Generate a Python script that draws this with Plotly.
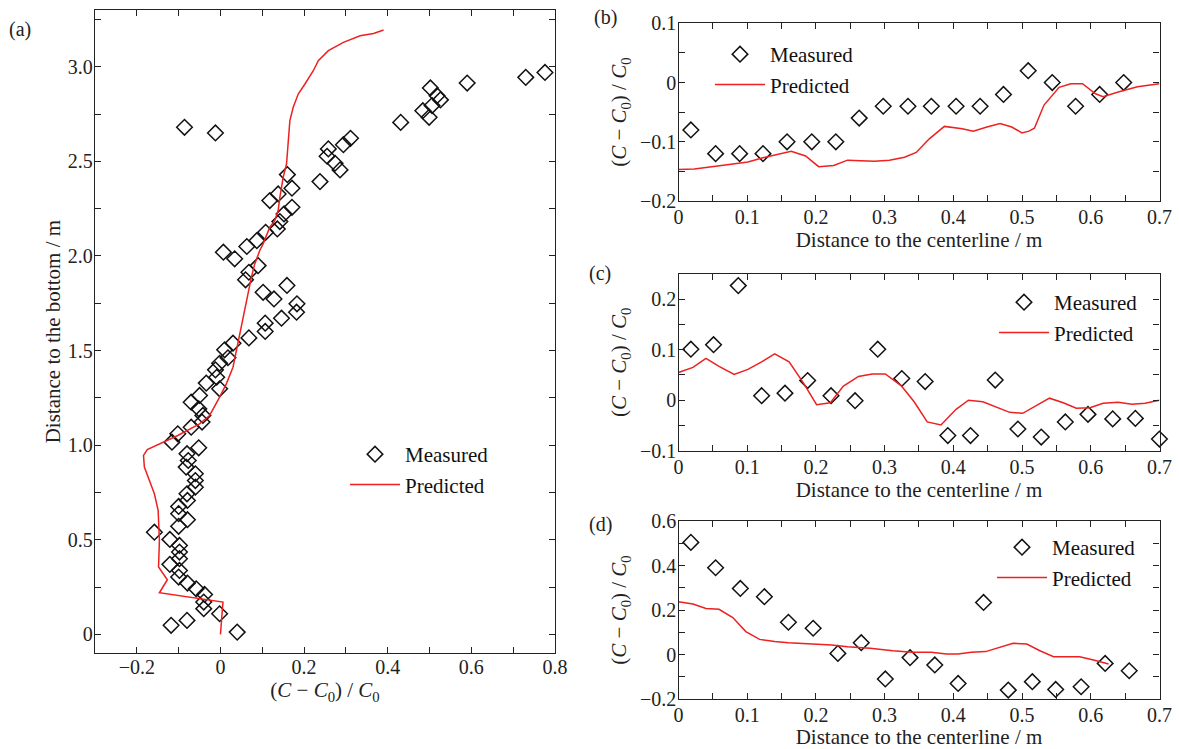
import plotly.graph_objects as go

# ---------------- Panel (a): vertical profile ----------------
a_meas_x = [-0.086, -0.012, 0.776, 0.730, 0.590, 0.502, 0.518, 0.526, 0.506, 0.484,
            0.499, 0.431, 0.311, 0.294, 0.258, 0.255, 0.274, 0.286, 0.238, 0.160,
            0.171, 0.138, 0.118, 0.171, 0.152, 0.142, 0.136, 0.108, 0.087, 0.063,
            0.007, 0.034, 0.090, 0.068, 0.060, 0.159, 0.102, 0.128, 0.183, 0.182,
            0.146, 0.107, 0.107, 0.068, 0.030, 0.010, 0.018, -0.002, -0.012, -0.009,
            -0.034, -0.002, -0.050, -0.070, -0.052, -0.042, -0.044, -0.070, -0.102, -0.116,
            -0.052, -0.080, -0.077, -0.082, -0.060, -0.060, -0.060, -0.080, -0.079, -0.100,
            -0.100, -0.079, -0.100, -0.158, -0.121, -0.098, -0.098, -0.098, -0.121, -0.098,
            -0.100, -0.079, -0.058, -0.038, -0.040, -0.040, -0.002, -0.080, -0.118, 0.040]
a_meas_y = [2.680, 2.650, 2.970, 2.944, 2.914, 2.888, 2.847, 2.825, 2.795, 2.768,
            2.733, 2.706, 2.622, 2.588, 2.566, 2.527, 2.490, 2.455, 2.393, 2.430,
            2.358, 2.328, 2.293, 2.257, 2.222, 2.182, 2.143, 2.125, 2.081, 2.050,
            2.020, 1.985, 1.949, 1.914, 1.874, 1.844, 1.808, 1.773, 1.747, 1.703,
            1.671, 1.645, 1.601, 1.567, 1.539, 1.504, 1.462, 1.433, 1.398, 1.359,
            1.328, 1.298, 1.263, 1.227, 1.192, 1.157, 1.122, 1.095, 1.060, 1.016,
            0.986, 0.955, 0.919, 0.884, 0.849, 0.813, 0.778, 0.743, 0.708, 0.676,
            0.638, 0.606, 0.571, 0.540, 0.502, 0.470, 0.435, 0.400, 0.370, 0.338,
            0.303, 0.271, 0.241, 0.211, 0.171, 0.136, 0.109, 0.074, 0.048, 0.012]

a_pred_x = [0.000, 0.004, 0.006, -0.146, -0.127, -0.148, -0.146, -0.149, -0.158, -0.182,
            -0.184, -0.175, -0.146, -0.102, -0.050, -0.026, -0.002, 0.014, 0.030, 0.038,
            0.050, 0.058, 0.066, 0.074, 0.082, 0.094, 0.102, 0.118, 0.130, 0.138,
            0.142, 0.150, 0.158, 0.162, 0.166, 0.174, 0.186, 0.202, 0.222, 0.234,
            0.258, 0.294, 0.334, 0.366, 0.390]
a_pred_y = [0.000, 0.110, 0.171, 0.220, 0.289, 0.356, 0.497, 0.655, 0.743, 0.884,
            0.946, 0.977, 1.007, 1.051, 1.113, 1.157, 1.254, 1.324, 1.412, 1.500,
            1.623, 1.712, 1.800, 1.888, 1.958, 2.029, 2.064, 2.152, 2.187, 2.240,
            2.310, 2.416, 2.486, 2.592, 2.715, 2.786, 2.856, 2.909, 2.979, 3.032,
            3.085, 3.129, 3.164, 3.176, 3.194]

a_ytick_vals = [0, 0.5, 1.0, 1.5, 2.0, 2.5, 3.0]
a_ytick_text = ["0", "0.5", "1.0", "1.5", "2.0", "2.5", "3.0"]

# ---------------- Panel (b) ----------------
b_meas_x = [0.018, 0.054, 0.089, 0.123, 0.158, 0.194, 0.229, 0.263, 0.298, 0.334,
            0.368, 0.404, 0.439, 0.473, 0.509, 0.544, 0.578, 0.613, 0.648]
b_meas_y = [-0.08, -0.12, -0.12, -0.12, -0.10, -0.10, -0.10, -0.06, -0.04, -0.04,
            -0.04, -0.04, -0.04, -0.02, 0.02, 0.00, -0.04, -0.02, 0.00]
b_pred_x = [0.000, 0.023, 0.057, 0.101, 0.123, 0.146, 0.164, 0.185, 0.204, 0.226,
            0.246, 0.285, 0.307, 0.329, 0.346, 0.365, 0.387, 0.413, 0.429, 0.449,
            0.468, 0.485, 0.500, 0.510, 0.518, 0.532, 0.554, 0.571, 0.588, 0.607,
            0.618, 0.640, 0.668, 0.700]
b_pred_y = [-0.147, -0.146, -0.141, -0.134, -0.127, -0.121, -0.116, -0.124, -0.142, -0.140,
            -0.131, -0.133, -0.131, -0.126, -0.118, -0.095, -0.074, -0.078, -0.082, -0.075,
            -0.069, -0.075, -0.085, -0.082, -0.077, -0.038, -0.008, -0.002, -0.002, -0.019,
            -0.024, -0.016, -0.007, -0.002]

# ---------------- Panel (c) ----------------
c_meas_x = [0.018, 0.051, 0.087, 0.121, 0.155, 0.188, 0.222, 0.257, 0.290, 0.325,
            0.359, 0.392, 0.425, 0.461, 0.494, 0.528, 0.563, 0.596, 0.632, 0.665, 0.700]
c_meas_y = [0.101, 0.110, 0.227, 0.009, 0.014, 0.039, 0.009, -0.001, 0.101, 0.043,
            0.037, -0.070, -0.070, 0.040, -0.057, -0.073, -0.043, -0.028, -0.037, -0.036, -0.077]
c_pred_x = [0.000, 0.021, 0.040, 0.059, 0.081, 0.101, 0.121, 0.140, 0.161, 0.182,
            0.201, 0.221, 0.240, 0.262, 0.282, 0.301, 0.324, 0.343, 0.362, 0.382,
            0.404, 0.422, 0.443, 0.462, 0.482, 0.501, 0.521, 0.540, 0.560, 0.579,
            0.599, 0.618, 0.640, 0.660, 0.679, 0.700]
c_pred_y = [0.055, 0.065, 0.083, 0.067, 0.051, 0.061, 0.076, 0.092, 0.076, 0.034,
            -0.009, -0.005, 0.028, 0.047, 0.052, 0.052, 0.029, -0.003, -0.043, -0.049,
            -0.018, 0.000, -0.003, -0.014, -0.024, -0.026, -0.011, 0.004, -0.005, -0.016,
            -0.015, -0.006, -0.004, -0.008, -0.006, 0.000]

# ---------------- Panel (d) ----------------
d_meas_x = [0.018, 0.054, 0.090, 0.125, 0.160, 0.196, 0.232, 0.266, 0.301, 0.337,
            0.373, 0.407, 0.444, 0.480, 0.515, 0.549, 0.586, 0.621, 0.656]
d_meas_y = [0.504, 0.390, 0.297, 0.260, 0.145, 0.118, 0.005, 0.053, -0.110, -0.014,
            -0.047, -0.130, 0.234, -0.160, -0.122, -0.157, -0.145, -0.040, -0.073]
d_pred_x = [0.000, 0.021, 0.040, 0.059, 0.079, 0.098, 0.118, 0.140, 0.160, 0.190,
            0.223, 0.246, 0.279, 0.312, 0.340, 0.368, 0.390, 0.407, 0.426, 0.447,
            0.468, 0.487, 0.507, 0.526, 0.546, 0.565, 0.584, 0.604, 0.626]
d_pred_y = [0.237, 0.227, 0.207, 0.203, 0.166, 0.103, 0.068, 0.058, 0.053, 0.047,
            0.043, 0.035, 0.028, 0.017, 0.010, 0.010, 0.002, 0.002, 0.010, 0.013,
            0.031, 0.050, 0.047, 0.017, -0.010, -0.010, -0.010, -0.025, -0.043]

W, H = 1179, 749
FONT = "Liberation Serif, Times New Roman, serif"
RED = "#ee2020"
CT = "(<i>C</i> − <i>C</i><sub>0</sub>) / <i>C</i><sub>0</sub>"


def px_x(p):
    return p / W


def px_y(p):
    return 1 - p / H


fig = go.Figure()

panels = [
    ("x", "y", "legend", a_meas_x, a_meas_y, a_pred_x, a_pred_y),
    ("x2", "y2", "legend2", b_meas_x, b_meas_y, b_pred_x, b_pred_y),
    ("x3", "y3", "legend3", c_meas_x, c_meas_y, c_pred_x, c_pred_y),
    ("x4", "y4", "legend4", d_meas_x, d_meas_y, d_pred_x, d_pred_y),
]
for xa, ya, lg, mx, my, pxv, pyv in panels:
    fig.add_trace(go.Scatter(
        x=mx, y=my, mode="markers", name="Measured", xaxis=xa, yaxis=ya, legend=lg,
        marker=dict(symbol="diamond-open", size=12, color="#111111", line=dict(width=1.5, color="#111111")),
        cliponaxis=False))
    fig.add_trace(go.Scatter(
        x=pxv, y=pyv, mode="lines", name="Predicted", xaxis=xa, yaxis=ya, legend=lg,
        line=dict(color=RED, width=1.5)))


def axis(domain, rng, dtick, minor_dtick, title=None, standoff=4, lbl_off=0, **kw):
    d = dict(
        domain=domain, range=rng, dtick=dtick, tick0=0, automargin=False,
        showgrid=False, zeroline=False, showline=True, linecolor="#222222", linewidth=1.3,
        mirror="allticks", ticks="inside", ticklen=6, tickwidth=1.2, tickcolor="#222222",
        tickfont=dict(family=FONT, size=20, color="#222222"),
        minor=dict(dtick=minor_dtick, tick0=0, ticks="inside", ticklen=6, tickwidth=1.2,
                   tickcolor="#222222", showgrid=False),
        ticklabelstandoff=lbl_off,
    )
    if title:
        d["title"] = dict(text=title, font=dict(family=FONT, size=21, color="#222222"), standoff=standoff)
    d.update(kw)
    return d


xa_dom = [px_x(95), px_x(555)]
xr_dom = [px_x(678.5), px_x(1159.5)]
XT = "Distance to the centerline / m"

fig.update_layout(
    template="none",
    width=W, height=H,
    margin=dict(l=0, r=0, t=0, b=0, autoexpand=False),
    paper_bgcolor="white", plot_bgcolor="white",
    font=dict(family=FONT, size=20, color="#222222"),
    xaxis=axis(xa_dom, [-0.3, 0.8], 0.2, 0.1, CT, standoff=3, lbl_off=-4, anchor="y"),
    yaxis=axis([px_y(653.3), px_y(10)], [-0.1, 3.3], None, 0.25, "Distance to the bottom / m",
               standoff=1, lbl_off=-3,
               anchor="x", tickmode="array", tickvals=a_ytick_vals, ticktext=a_ytick_text),
    xaxis2=axis(xr_dom, [0, 0.7001], 0.1, 0.05, XT, standoff=2, lbl_off=-2, anchor="y2"),
    yaxis2=axis([px_y(201), px_y(23.3)], [-0.2, 0.1001], 0.1, 0.05, CT, standoff=7, lbl_off=-3, anchor="x2"),
    xaxis3=axis(xr_dom, [0, 0.7001], 0.1, 0.05, XT, standoff=2, lbl_off=-2, anchor="y3"),
    yaxis3=axis([px_y(450.7), px_y(274)], [-0.1, 0.25], 0.1, 0.05, CT, standoff=7, lbl_off=-3, anchor="x3"),
    xaxis4=axis(xr_dom, [0, 0.7001], 0.1, 0.05, XT, standoff=2, lbl_off=-2, anchor="y4"),
    yaxis4=axis([px_y(699), px_y(521)], [-0.2, 0.6001], 0.2, 0.1, CT, standoff=7, lbl_off=-3, anchor="x4"),
    showlegend=True,
)

leg_common = dict(xanchor="left", yanchor="top", bgcolor="rgba(0,0,0,0)", borderwidth=0,
                  font=dict(family=FONT, size=21, color="#111111"), tracegroupgap=0, itemwidth=50)
fig.update_layout(
    legend=dict(x=px_x(345), y=px_y(434), **leg_common),
    legend2=dict(x=px_x(710), y=px_y(34), **leg_common),
    legend3=dict(x=px_x(994), y=px_y(282), **leg_common),
    legend4=dict(x=px_x(992), y=px_y(527), **leg_common),
)

for txt, xp, yp in [("(a)", 20, 29), ("(b)", 605, 18), ("(c)", 600, 274), ("(d)", 600, 524)]:
    fig.add_annotation(text=txt, x=px_x(xp), y=px_y(yp), xref="paper", yref="paper",
                       showarrow=False, xanchor="center", yanchor="middle",
                       font=dict(family=FONT, size=20, color="#222222"))

fig.write_html("out.html", config={"displayModeBar": False},
               post_script="document.body.style.margin='0px';")
